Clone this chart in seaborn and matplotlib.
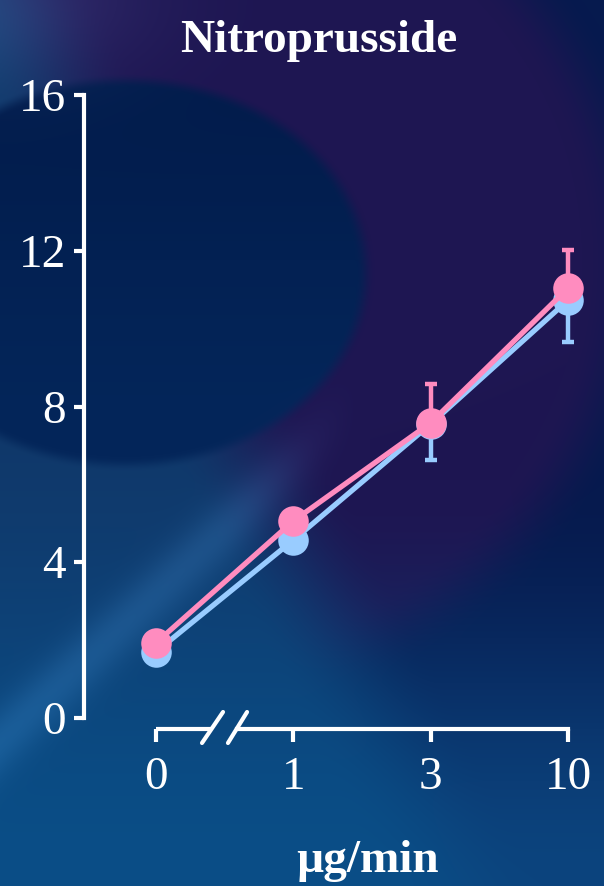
import numpy as np
import matplotlib
matplotlib.use("Agg")
import matplotlib.pyplot as plt
import seaborn as sns
import pandas as pd

# ---- data ----
doses = ["0", "1", "3", "10"]
blue_vals = [1.70, 4.57, 7.55, 10.73]
pink_vals = [1.93, 5.06, 7.58, 11.04]
blue_err_down = [0.0, 0.0, 0.92, 1.07]
pink_err_up = [0.0, 0.0, 1.00, 0.99]
y_ticks = [0, 4, 8, 12, 16]
title = "Nitroprusside"
x_label = "µg/min"

BLUE = "#99CCFF"
PINK = "#FF8CBF"

sns.set_theme(style="ticks")
plt.rcParams["font.family"] = ["Liberation Serif", "DejaVu Serif"]

W, H = 604, 886
fig = plt.figure(figsize=(W / 100, H / 100), dpi=100)

# ---- background ----
yy, xx = np.mgrid[0:H, 0:W].astype(float)


def sm(e0, e1, x):
    u = np.clip((x - e0) / (e1 - e0), 0, 1)
    return u * u * (3 - 2 * u)


def lerp(a, b, t):
    a = np.array(a, float)
    b = np.array(b, float)
    return a + (b - a) * t[..., None]


r1 = np.sqrt(((xx - 125) / 240) ** 2 + ((yy - 272) / 192) ** 2)
r2 = np.sqrt(((xx - 150) / 470) ** 2 + ((yy - 260) / 430) ** 2)
s = (xx - 270) - 0.5 * (yy - 500)

inner = lerp([2, 28, 76], [4, 38, 90], sm(60, 460, yy))
blue_col = lerp([16, 56, 106], [10, 78, 135], sm(400, 886, yy))
purple = np.array([30, 22, 82], float)
navy = np.array([6, 26, 78], float)

w_in = 1 - sm(0.96, 1.04, r1)
w_ring = 1 - sm(0.92, 1.1, r2)
outer = w_ring[..., None] * purple + (1 - w_ring[..., None]) * navy
bottom_c = np.array([12, 68, 126], float)
tb = sm(480, 886, yy)[..., None]
outer = outer * (1 - tb) + bottom_c * tb
p = sm(-80, 80, s)
outer_side = p[..., None] * outer + (1 - p[..., None]) * blue_col
img = w_in[..., None] * inner + (1 - w_in[..., None]) * outer_side

# light streak along lower-left edge
d = np.abs((yy - 740) + 0.94 * xx) / np.sqrt(1 + 0.94 ** 2)
streak = np.exp(-(d / 26) ** 2) * (1 - sm(230, 370, xx))
img = img + np.array([14, 20, 24]) * streak[..., None]
# greyish glow in top-left corner
g = np.exp(-((xx / 140) ** 2 + (yy / 80) ** 2))
img = img + np.array([18, 22, 26]) * g[..., None]
img = np.clip(img, 0, 255) / 255.0

bg = fig.add_axes([0, 0, 1, 1])
bg.imshow(img, aspect="auto", extent=[0, 1, 0, 1], origin="upper", zorder=0)
bg.axis("off")

# ---- main axes ----
ax = fig.add_axes([84 / W, 168 / H, (592 - 84) / W, (718 - 95) / H])
ax.patch.set_alpha(0)
pos = list(range(len(doses)))
df = pd.DataFrame({"pos": pos, "blue": blue_vals, "pink": pink_vals})

ax.errorbar(pos, blue_vals, yerr=[blue_err_down, [0] * 4], fmt="none",
            ecolor=BLUE, elinewidth=3.2, capsize=4, capthick=3.2, zorder=2, clip_on=False)
sns.lineplot(data=df, x="pos", y="blue", color=BLUE, lw=3.8, marker="o",
             markersize=22, markeredgewidth=0, ax=ax, zorder=3, clip_on=False)
ax.errorbar(pos, pink_vals, yerr=[[0] * 4, pink_err_up], fmt="none",
            ecolor=PINK, elinewidth=3.2, capsize=4, capthick=3.2, zorder=4, clip_on=False)
sns.lineplot(data=df, x="pos", y="pink", color=PINK, lw=3.8, marker="o",
             markersize=22, markeredgewidth=0, ax=ax, zorder=5, clip_on=False)

ax.set_xlim(-72 / 137.33, 3 + 24 / 137.33)
ax.set_ylim(0, 16)
ax.set_xlabel("")
ax.set_ylabel("")

for sp in ["top", "right"]:
    ax.spines[sp].set_visible(False)
ax.spines["left"].set_bounds(0, 16)
ax.spines["left"].set_color("white")
ax.spines["left"].set_linewidth(3)
ax.spines["bottom"].set_position(("outward", 8))
ax.spines["bottom"].set_bounds(0.59, 3)
ax.spines["bottom"].set_color("white")
ax.spines["bottom"].set_linewidth(3)

ax.set_yticks(y_ticks)
ax.set_yticklabels([str(v) for v in y_ticks])
ax.set_xticks(pos)
ax.set_xticklabels(doses)
ax.tick_params(axis="y", colors="white", labelsize=34, length=7, width=3, pad=6)
ax.tick_params(axis="x", colors="white", labelsize=34, length=9.5, width=3, pad=10)

# axis break: left segment and slashes
axh = 623.0
xt = ax.get_xaxis_transform()
yl = -11 / axh
ax.plot([0, 0.40], [yl, yl], color="white", lw=3, transform=xt, clip_on=False,
        solid_capstyle="butt")
ax.plot([0.335, 0.488], [(-11 - 14) / axh, (-11 + 17) / axh], color="white", lw=3,
        transform=xt, clip_on=False)
ax.plot([0.524, 0.663], [(-11 - 14) / axh, (-11 + 17) / axh], color="white", lw=3,
        transform=xt, clip_on=False)

fig.text(319 / W, 1 - 52 / H, title, color="white", fontsize=34, fontweight="bold",
         ha="center", va="baseline")
fig.text(367 / W, 1 - 872 / H, x_label, color="white", fontsize=34, fontweight="bold",
         ha="center", va="baseline")

fig.savefig("out.png", dpi=100)
